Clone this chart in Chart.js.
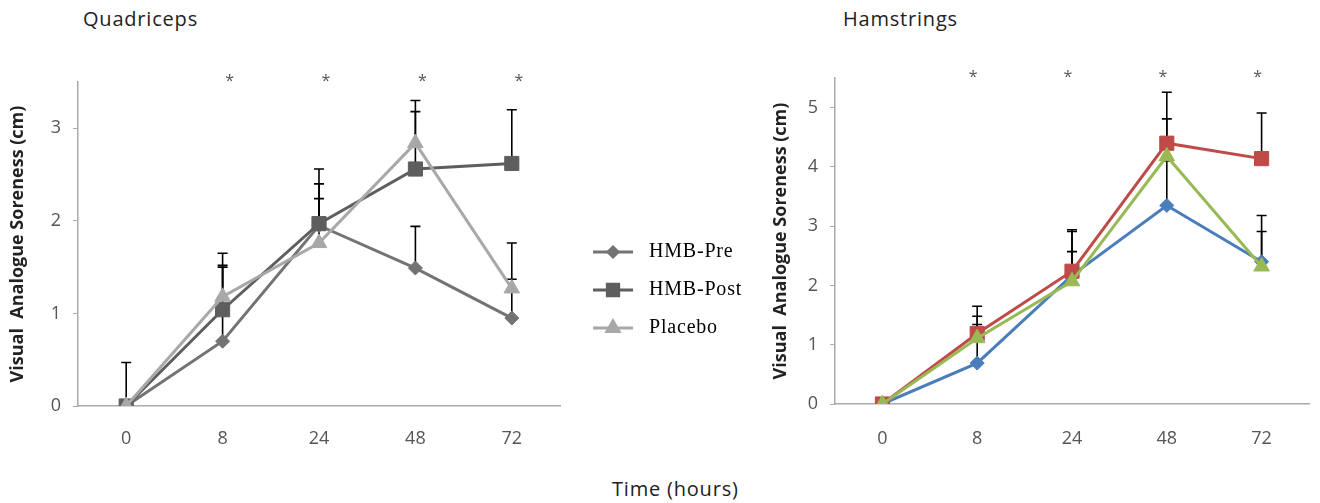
<!DOCTYPE html>
<html>
<head>
<meta charset="utf-8">
<script src="https://cdn.jsdelivr.net/npm/chart.js@4/dist/chart.umd.min.js"></script>
<style>
  body { margin: 0; background: #fff; width: 1320px; height: 503px; position: relative; overflow: hidden; }
  canvas { position: absolute; }
  .lbl { position: absolute; font-family: "Open Sans", sans-serif; color: #222; white-space: nowrap; }
</style>
</head>
<body>
<div class="lbl" style="left:83px; top:5px; font-size:20px; letter-spacing:0.8px;">Quadriceps</div>
<div class="lbl" style="left:843px; top:5px; font-size:20px; letter-spacing:0.8px;">Hamstrings</div>
<div class="lbl" style="left:612px; top:475px; font-size:20px; letter-spacing:0.8px;">Time (hours)</div>
<canvas id="quad" width="760" height="470" style="left:0; top:0;"></canvas>
<canvas id="ham" width="560" height="470" style="left:760px; top:0;"></canvas>
<script>
const hours = ['0', '8', '24', '48', '72']
const seriesNames = ['HMB-Pre', 'HMB-Post', 'Placebo']

// quadriceps means and upper SD
const quadPre = [0, 0.70, 1.95, 1.49, 0.95]
const quadPost = [0, 1.04, 1.97, 2.56, 2.62]
const quadPlacebo = [0, 1.18, 1.76, 2.84, 1.27]
const quadPreSd = [0.47, 0.80, 0.45, 0.45, 0.42]
const quadPostSd = [0, 0.61, 0.59, 0.62, 0.58]
const quadPlaceboSd = [0, 0.34, 0.48, 0.46, 0.49]

// hamstrings means and upper SD
const hamPre = [0, 0.69, 2.17, 3.35, 2.40]
const hamPost = [0, 1.19, 2.24, 4.40, 4.14]
const hamPlacebo = [0, 1.11, 2.07, 4.18, 2.32]
const hamPreSd = [0, 0.65, 0.40, 0.75, 0.78]
const hamPostSd = [0, 0.46, 0.70, 0.86, 0.77]
const hamPlaceboSd = [0, 0.37, 0.84, 0.63, 0.59]

// which time points got an asterisk
const sigFlags = [false, true, true, true, true]

const markerStyles = ['rectRot', 'rect', 'triangle']
const markerSizes = [7, 10, 9]

const errorBars = {
    id: 'errorBars',
    beforeDatasetsDraw(chart) {
        const ctx = chart.ctx
        const yScale = chart.scales.y
        ctx.save()
        ctx.strokeStyle = '#000'
        ctx.lineWidth = 1.6
        chart.data.datasets.forEach((ds, di) => {
            const meta = chart.getDatasetMeta(di)
            ds.sd.forEach((sd, i) => {
                if (!sd) return
                const pt = meta.data[i]
                const top = yScale.getPixelForValue(ds.data[i] + sd)
                ctx.beginPath()
                ctx.moveTo(pt.x, pt.y)
                ctx.lineTo(pt.x, top)
                ctx.moveTo(pt.x - 5, top)
                ctx.lineTo(pt.x + 5, top)
                ctx.stroke()
            })
        })
        ctx.restore()
    }
}

const stars = {
    id: 'stars',
    afterDraw(chart, args, opts) {
        const ctx = chart.ctx
        const xScale = chart.scales.x
        ctx.save()
        ctx.fillStyle = '#555'
        ctx.font = '16px "Open Sans"'
        ctx.textAlign = 'center'
        ctx.textBaseline = 'middle'
        sigFlags.forEach((s, i) => {
            if (s) ctx.fillText('*', xScale.getPixelForValue(i) + opts.dx, chart.chartArea.top - 1)
        })
        ctx.restore()
    }
}

// legend sits to the right of the quadriceps plot
const sideLegend = {
    id: 'sideLegend',
    afterDraw(chart) {
        const ctx = chart.ctx
        const rows = [252, 290, 328]
        ctx.save()
        chart.data.datasets.forEach((ds, i) => {
            const y = rows[i]
            ctx.strokeStyle = ds.borderColor
            ctx.fillStyle = ds.borderColor
            ctx.lineWidth = 3
            ctx.beginPath()
            ctx.moveTo(593, y)
            ctx.lineTo(633, y)
            ctx.stroke()
            Chart.helpers.drawPoint(ctx, {
                pointStyle: markerStyles[i], radius: markerSizes[i] - 2, rotation: 0, borderWidth: 1
            }, 613, y)
            ctx.fillStyle = '#000'
            ctx.font = '20px "Liberation Serif"'
            ctx.letterSpacing = '0.8px'
            ctx.textBaseline = 'middle'
            ctx.fillText(ds.label, 649, y)
        })
        ctx.restore()
    }
}

function makeDatasets(values, sds, colors) {
    return values.map((v, i) => ({
        label: seriesNames[i],
        data: v,
        sd: sds[i],
        order: values.length - 1 - i, // later series drawn on top
        borderColor: colors[i],
        backgroundColor: colors[i],
        borderWidth: 3,
        pointStyle: markerStyles[i],
        pointRadius: markerSizes[i],
        pointBorderWidth: 1,
        tension: 0,
    }))
}

function makeOptions(ymax, pad, yWidth, xHeight, titlePad, labelPad, dx) {
    return {
        responsive: false,
        animation: false,
        layout: { padding: pad },
        plugins: {
            legend: { display: false },
            tooltip: { enabled: false },
            stars: { dx: dx },
        },
        scales: {
            x: {
                type: 'category',
                offset: true,
                grid: { display: false, drawTicks: false },
                border: { display: true, color: '#aaa', width: 1.5 },
                ticks: { color: '#555', font: { family: 'Open Sans', size: 18 }, padding: labelPad },
                afterFit: s => { s.height = xHeight },
            },
            y: {
                min: 0,
                max: ymax,
                grid: { display: true, drawOnChartArea: false, drawTicks: true, tickLength: 5, color: '#aaa' },
                border: { display: true, color: '#aaa', width: 1.5 },
                ticks: { stepSize: 1, color: '#555', font: { family: 'Open Sans', size: 18 }, padding: 12 },
                afterBuildTicks: s => { s.ticks = s.ticks.filter(t => Number.isInteger(t.value)) },
                title: {
                    display: true,
                    text: 'Visual  Analogue Soreness (cm)',
                    color: '#222',
                    font: { family: 'Open Sans', size: 18, weight: 'bold' },
                    padding: { top: titlePad, bottom: 0 },
                },
                afterFit: s => { s.width = yWidth },
            },
        },
    }
}

new Chart(document.getElementById('quad'), {
    type: 'line',
    data: {
        labels: hours,
        datasets: makeDatasets([quadPre, quadPost, quadPlacebo], [quadPreSd, quadPostSd, quadPlaceboSd],
            ['#737373', '#5e5e5e', '#a8a8a8']),
    },
    options: makeOptions(3.5, { left: 0, top: 82, right: 200, bottom: 0 }, 78, 64, 7, 22, 7),
    plugins: [errorBars, stars, sideLegend],
})

new Chart(document.getElementById('ham'), {
    type: 'line',
    data: {
        labels: hours,
        datasets: makeDatasets([hamPre, hamPost, hamPlacebo], [hamPreSd, hamPostSd, hamPlaceboSd],
            ['#4a7ebb', '#be4b48', '#98b954']),
    },
    options: makeOptions(5.5, { left: 0, top: 78, right: 1, bottom: 0 }, 75, 66, 10, 24, -4),
    plugins: [errorBars, stars],
})
</script>
</body>
</html>
